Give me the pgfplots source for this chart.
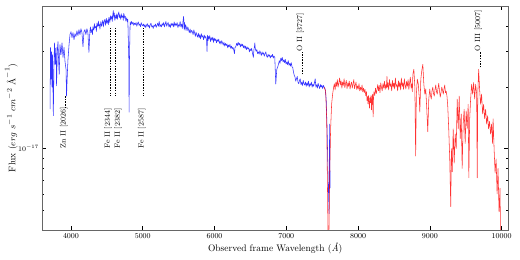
\documentclass[border=0pt]{standalone}
\usepackage{pgfplots}
\pgfplotsset{compat=1.18}
\begin{document}
\begin{tikzpicture}[
  annot/.style={black, line width=0.6pt, dash pattern=on 1.5pt off 1.2pt},
  lab/.style={rotate=90, anchor=base west, inner sep=0pt, font=\fontsize{7.5}{9}\selectfont},
]
\begin{axis}[
  scale only axis, width=466pt, height=224pt,
  xmin=3600, xmax=10090, ymode=log, ymin=0.4, ymax=5.0,
  scaled x ticks=false,
  xtick={4000,5000,6000,7000,8000,9000,10000},
  xticklabels={4000,5000,6000,7000,8000,9000,10000},
  minor xtick={},
  ytick={1}, yticklabels={$10^{-17}$},
  minor ytick={0.4,0.5,0.6,0.7,0.8,0.9,2,3,4,5},
  tick align=inside, major tick length=4pt, minor tick length=2pt,
  tick style={black, line width=0.5pt},
  axis line style={black!60, line width=0.6pt},
  ticklabel style={font=\fontsize{7.5}{9}\selectfont},
  xlabel={Observed frame Wavelength (\textit{\AA})},
  ylabel={Flux ($erg\ s^{-1}\ cm^{-2}\ \mbox{\AA}^{-1}$)},
  label style={font=\fontsize{9.5}{11}\selectfont},
  xlabel style={at={(axis description cs:0.5,-0.098)}, anchor=base},
  ylabel style={at={(axis description cs:-0.0665,0.5)}, anchor=center},
]
\addplot[blue, line width=0.55pt, opacity=0.8, no markers, line join=round] coordinates {
(3708,1.56) (3715,3.13) (3722,2.19) (3729,2.99) (3736,2.00) (3743,2.89) (3754,1.45) (3764,2.73) (3771,3.30) (3781,2.59) (3792,3.13) (3799,2.03) (3810,3.06) (3819,3.34) (3828,2.67) (3836,2.31) (3847,3.23) (3861,2.89) (3875,3.30) (3889,2.80) (3903,3.13) (3917,2.67) (3931,2.45) (3938,1.81) (3949,2.31) (3958,2.73) (3972,3.20) (3986,3.62) (4000,3.74) (4014,3.50) (4028,3.70) (4042,3.42) (4056,3.66) (4069,3.54) (4083,3.78) (4097,3.58) (4111,3.83) (4125,3.62) (4139,3.87) (4153,3.70) (4167,3.16) (4181,3.74) (4194,3.83) (4208,3.62) (4222,3.87) (4236,3.70) (4250,2.96)
(4264,3.78) (4271,3.95) (4278,3.70) (4292,3.85) (4299,3.62) (4306,3.96) (4319,3.80) (4326,4.10) (4333,3.90) (4347,3.98) (4354,3.75) (4361,4.12) (4375,3.95) (4382,4.22) (4389,4.00) (4396,4.08) (4403,3.85) (4417,4.20) (4424,3.98) (4431,4.05) (4444,4.26) (4451,3.95) (4458,4.15) (4472,4.30) (4479,4.02) (4486,4.18) (4493,4.35) (4500,4.10) (4514,4.28) (4521,4.05) (4528,4.40) (4542,4.15) (4549,4.48) (4556,4.30) (4569,4.45) (4576,4.20) (4583,4.55) (4590,4.75) (4597,4.40) (4604,4.62) (4611,4.25) (4625,4.50) (4632,4.35) (4639,4.58) (4646,4.30) (4653,4.48) (4667,4.68) (4674,4.38) (4681,4.52) (4694,4.30) (4701,4.58) (4708,4.40) (4722,4.48) (4729,4.25) (4736,4.60) (4750,4.35) (4757,4.45) (4764,4.22) (4778,4.38) (4785,4.18) (4792,4.30)
(4806,2.73) (4810,1.51) (4815,2.73) (4824,4.18) (4833,4.05) (4844,4.20) (4854,4.08) (4865,4.16) (4875,4.02) (4886,4.12) (4896,4.05) (4907,4.15) (4917,3.98) (4928,4.10) (4938,4.18) (4948,4.02) (4958,4.08) (4969,3.96) (4979,4.14) (4990,4.04) (5000,4.00) (5010,4.08) (5021,3.95) (5031,4.05) (5042,3.92) (5052,4.02) (5063,4.10) (5073,3.96) (5083,4.03) (5094,3.90) (5104,4.05) (5115,4.12) (5125,3.95) (5135,4.00) (5146,3.88) (5156,4.03) (5167,3.97) (5177,4.08) (5188,3.93) (5198,4.02) (5208,4.12) (5219,3.98) (5229,4.20) (5240,3.96) (5250,4.05) (5260,3.95) (5271,4.10) (5281,4.02) (5292,4.15) (5302,3.95) (5313,4.08) (5323,4.20) (5333,3.98) (5344,4.08) (5354,4.15) (5365,3.95) (5375,4.06) (5385,3.92) (5396,4.12) (5406,4.02) (5417,4.10) (5427,3.95) (5438,4.18) (5448,3.98) (5458,4.10) (5469,4.02) (5479,4.15) (5490,3.92) (5500,4.05) (5510,3.98) (5521,4.20) (5531,3.95) (5542,4.08) (5552,3.88) (5563,4.28) (5570,4.45) (5576,3.85) (5583,4.15) (5590,3.80) (5597,4.05)
(5608,3.92) (5618,3.78) (5628,3.95) (5639,3.82) (5649,3.70) (5660,3.86) (5670,3.68) (5681,3.80) (5691,3.75) (5702,3.62) (5712,3.82) (5722,3.70) (5733,3.55) (5743,3.72) (5754,3.60) (5764,3.52) (5775,3.68) (5785,3.50) (5795,3.62) (5806,3.45) (5816,3.66) (5826,3.52) (5837,3.58) (5847,3.42) (5858,3.60) (5868,3.48) (5878,3.55) (5889,3.40) (5896,2.99) (5903,3.60) (5910,3.38) (5917,3.55) (5924,3.45) (5934,3.58) (5944,3.35) (5955,3.50) (5965,3.40) (5976,3.52) (5986,3.32) (5996,3.48) (6007,3.38) (6017,3.45) (6028,3.30) (6038,3.42) (6049,3.35) (6059,3.44) (6069,3.28) (6080,3.36) (6090,3.25) (6101,3.38) (6111,3.30) (6122,3.22) (6132,3.32) (6142,3.18) (6153,3.28) (6163,3.20) (6174,3.26) (6184,3.12) (6194,3.22) (6205,3.15) (6215,3.24) (6226,3.10) (6236,3.18) (6247,3.08) (6257,3.14) (6268,3.05) (6278,2.92) (6285,3.12) (6299,3.18) (6309,3.28) (6319,3.20) (6330,3.32) (6340,3.22) (6350,3.28) (6361,3.15) (6371,3.26) (6382,3.18) (6392,3.25) (6403,3.12) (6413,3.20) (6424,3.10) (6434,3.18) (6444,3.05) (6455,3.15) (6465,3.08) (6476,3.12) (6486,2.98) (6497,3.08) (6507,3.02) (6518,3.10) (6528,2.95) (6542,2.80) (6549,3.05) (6556,3.15) (6562,3.30) (6569,3.08) (6580,3.00) (6590,3.06) (6601,2.92) (6611,2.98) (6622,2.90) (6632,3.02)
(6642,2.94) (6653,2.86) (6663,2.98) (6674,2.90) (6684,2.95) (6694,2.84) (6705,2.92) (6715,2.98) (6726,2.85) (6736,2.80) (6747,2.90) (6757,2.83) (6768,2.88) (6778,2.78) (6789,2.86) (6799,2.82) (6809,2.90) (6819,2.78) (6830,2.84) (6840,2.80) (6854,2.07) (6868,2.45) (6882,2.52) (6892,2.60) (6903,2.70) (6913,2.62) (6924,2.78) (6934,2.70) (6944,2.80) (6955,2.66) (6965,2.72) (6976,2.64) (6986,2.74) (6996,2.60) (7007,2.66) (7017,2.58) (7028,2.70) (7038,2.56) (7049,2.62) (7059,2.54) (7069,2.64) (7080,2.52) (7090,2.50) (7100,2.38) (7111,2.29) (7122,2.24) (7132,2.14) (7142,2.20) (7153,2.26) (7163,2.12) (7174,2.08) (7184,2.16) (7194,2.20) (7205,2.06) (7215,2.12) (7226,2.04) (7236,2.16) (7247,2.08) (7257,2.05) (7268,2.12) (7278,2.02) (7288,2.10) (7299,2.04) (7309,2.14) (7319,2.00) (7330,2.08) (7340,2.04) (7350,2.12) (7361,2.00) (7371,2.07) (7382,2.02) (7392,2.10) (7403,2.20) (7413,2.00) (7424,2.06) (7434,1.98) (7444,2.09) (7455,2.02) (7465,1.97) (7476,2.06) (7486,2.00) (7496,2.05) (7507,1.97) (7518,2.04) (7528,2.00) (7542,1.96) (7556,1.75) (7569,1.25) (7583,0.72) (7597,0.48) (7604,1.32) (7611,0.64)
};
\addplot[red, line width=0.55pt, opacity=0.8, no markers, line join=round] coordinates {
(7528,2.00) (7549,1.91) (7563,1.40) (7576,0.57) (7583,0.35) (7593,0.35) (7604,0.72) (7618,1.25) (7632,1.65) (7646,1.85) (7660,2.00)
(7670,2.08) (7681,1.94) (7691,2.12) (7701,2.02) (7712,2.18) (7722,2.00) (7733,2.10) (7743,2.22) (7754,2.05) (7764,2.15) (7775,1.98) (7785,2.12) (7795,2.04) (7806,2.20) (7816,1.99) (7826,2.08) (7837,2.16) (7847,1.97) (7858,2.10) (7868,2.02) (7878,2.14) (7889,1.96) (7899,2.06) (7910,2.12) (7920,1.98) (7931,2.08) (7941,2.18) (7951,1.97) (7962,2.05) (7972,2.12) (7982,1.95) (7993,2.03) (8003,1.96) (8014,2.08) (8024,1.92) (8035,2.00) (8045,1.93) (8056,2.05) (8066,1.90) (8076,1.98) (8087,1.88) (8097,1.95) (8108,1.82) (8118,1.90) (8125,1.72) (8132,1.80) (8139,1.66) (8146,1.82) (8153,1.70) (8160,1.58) (8167,1.78) (8174,1.68) (8181,1.82) (8188,1.55) (8195,1.76) (8201,1.85) (8206,1.62) (8211,1.43) (8216,1.80) (8222,1.90) (8233,1.82) (8243,1.98) (8254,1.86) (8264,1.94) (8274,2.06) (8285,1.92) (8295,2.04) (8306,1.88) (8316,2.10) (8326,2.00) (8337,1.92) (8347,2.08) (8358,1.98) (8368,2.14) (8378,1.95) (8389,2.06) (8396,1.98) (8403,2.26) (8410,2.00) (8417,2.10) (8427,1.94) (8438,2.18) (8448,2.02) (8458,2.08) (8469,1.92) (8479,2.16) (8490,2.00) (8500,2.10) (8510,1.96) (8521,2.22) (8531,2.02) (8542,2.06) (8552,1.92) (8563,2.15) (8573,2.00) (8583,2.12) (8594,1.94) (8604,2.22) (8615,2.02) (8625,2.10) (8635,1.95) (8646,2.20) (8656,2.05) (8667,1.96) (8677,2.14) (8688,2.02) (8698,2.18) (8708,1.95) (8719,2.10) (8729,2.24) (8740,1.98) (8750,2.08) (8757,1.90)
(8764,2.31) (8778,2.45) (8792,2.00) (8803,0.92) (8813,1.85) (8826,2.19) (8840,2.07) (8854,1.75) (8861,1.51) (8875,2.19) (8889,2.42) (8903,2.59) (8917,2.07) (8931,1.85) (8944,1.96) (8958,1.56) (8972,1.21) (8986,1.75) (9000,1.96) (9010,1.82) (9021,1.75) (9031,1.92) (9042,2.00) (9052,1.86) (9063,1.81) (9073,1.95) (9083,2.05) (9094,1.90) (9104,1.85) (9115,1.98) (9125,2.09) (9135,1.92) (9146,1.79) (9156,1.88) (9167,2.00) (9177,1.94) (9188,1.85) (9198,1.96) (9208,2.05) (9219,1.88) (9229,1.91) (9240,1.80) (9250,1.62) (9264,1.25) (9278,0.89) (9292,0.52) (9301,1.00) (9313,0.77) (9326,1.25) (9340,0.85) (9354,1.18) (9368,1.00) (9382,1.75) (9396,1.25) (9410,1.81) (9424,1.12) (9438,1.48) (9451,0.80) (9465,1.32) (9479,1.56) (9493,1.06) (9507,1.53) (9521,1.25) (9535,1.65) (9544,0.72) (9556,1.40) (9569,1.75) (9583,2.07) (9597,1.85) (9611,2.11) (9625,1.75) (9639,2.07) (9653,1.85) (9661,0.72) (9669,1.85) (9681,2.45) (9694,1.96) (9708,1.65) (9722,1.85) (9736,1.48) (9750,1.65) (9764,1.40) (9778,1.56) (9792,1.32) (9806,1.45) (9819,1.25) (9833,1.36) (9847,1.18) (9861,1.32) (9875,1.06) (9882,1.40) (9896,1.00) (9910,0.76) (9924,0.89) (9938,0.60) (9951,0.80) (9965,0.49) (9979,0.64) (9986,0.36)
};
\draw[annot] (axis cs:3926,1.81) -- (axis cs:3926,1.58);
\draw[annot] (axis cs:4542,3.91) -- (axis cs:4542,1.81);
\draw[annot] (axis cs:4616,3.91) -- (axis cs:4616,1.81);
\draw[annot] (axis cs:5013,3.91) -- (axis cs:5013,1.81);
\draw[annot] (axis cs:7222,2.31) -- (axis cs:7222,2.97);
\draw[annot] (axis cs:9702,2.50) -- (axis cs:9702,2.97);
\node[lab] at (axis cs:3926,1.0) {Zn II [2026]};
\node[lab] at (axis cs:4542,1.0) {Fe II [2344]};
\node[lab] at (axis cs:4683,1.0) {Fe II [2382]};
\node[lab] at (axis cs:5013,1.0) {Fe II [2587]};
\node[lab] at (axis cs:7222,3.0) {O II [3727]};
\node[lab] at (axis cs:9702,3.0) {O III [5007]};
\coordinate (SW) at (rel axis cs:0,0);
\coordinate (NE) at (rel axis cs:1,1);
\end{axis}
\pgfresetboundingbox
\path ([shift={(-42.3pt,-30pt)}]SW) rectangle ([shift={(12pt,6pt)}]NE);
\end{tikzpicture}
\end{document}
